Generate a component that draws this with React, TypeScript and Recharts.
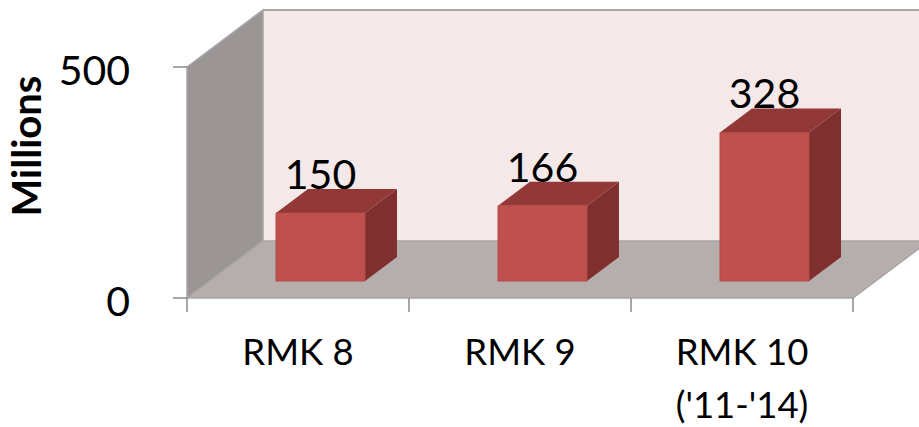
import { Bar, BarChart, Customized, LabelList, XAxis, YAxis } from "recharts"

const categories = ["RMK 8", "RMK 9", "RMK 10\n('11-'14)"]
const values = [150, 166, 328]
const yTicks = [0, 500]

const chartData = categories.map((name, i) => ({ name, value: values[i] }))

const FONT = "Lato, sans-serif"
const WIDTH = 919
const HEIGHT = 427

// plot box (front plane of the 3D frame)
const LEFT = 187
const RIGHT = 853
const TOP = 67
const FLOOR = 298

// depth of the frame and of each column
const WALL_DX = 76
const WALL_DY = 57
const BAR_DX = 32
const BAR_DY = 24
const BAR_SHIFT_X = 22
const BAR_LIFT = 17
const FORESHORTEN = 0.98

const pts = (list: number[][]) => list.map((p) => p.join(",")).join(" ")

function Frame() {
  const band = (RIGHT - LEFT) / categories.length
  const tickXs = [0, 1, 2, 3].map((i) => LEFT + band * i)
  const backL = LEFT + WALL_DX
  const backR = RIGHT + WALL_DX
  const backT = TOP - WALL_DY
  const backB = FLOOR - WALL_DY
  return (
    <g>
      <polygon points={pts([[backL, backT], [backR, backT], [backR, backB], [backL, backB]])} fill="#f4e8e8" />
      <polygon
        points={pts([[LEFT, TOP], [backL, backT], [backL, backB], [LEFT, FLOOR]])}
        fill="#9b9595"
        stroke="#a9a5a5"
        strokeWidth={1.5}
      />
      <polygon
        points={pts([[LEFT, FLOOR], [backL, backB], [backR, backB], [RIGHT, FLOOR]])}
        fill="#b6adad"
        stroke="#a9a5a5"
        strokeWidth={1.5}
      />
      <line x1={backL} y1={backT} x2={backR} y2={backT} stroke="#aaa6a6" strokeWidth={2} />
      {tickXs.map((x) => (
        <line key={x} x1={x} y1={FLOOR} x2={x} y2={FLOOR + 14} stroke="#8c8a8a" strokeWidth={1.5} />
      ))}
    </g>
  )
}

function Column({ x, y, width, height }: any) {
  const h = height * FORESHORTEN
  const bottom = y + height - BAR_LIFT
  const top = bottom - h
  const l = x + BAR_SHIFT_X
  const r = l + width
  return (
    <g strokeLinejoin="round">
      <polygon
        points={pts([[l, top], [r, top], [r + BAR_DX, top - BAR_DY], [l + BAR_DX, top - BAR_DY]])}
        fill="#923836"
      />
      <polygon
        points={pts([[r, top], [r + BAR_DX, top - BAR_DY], [r + BAR_DX, bottom - BAR_DY], [r, bottom]])}
        fill="#7f302e"
      />
      <rect x={l} y={top} width={width} height={h} fill="#c0504d" stroke="#b34a47" strokeWidth={1} />
    </g>
  )
}

function ValueLabel({ x, y, width, height, value }: any) {
  const h = height * FORESHORTEN
  const top = y + height - BAR_LIFT - h
  return (
    <text
      x={x + BAR_SHIFT_X + width / 2}
      y={top - BAR_DY}
      textAnchor="middle"
      fontFamily={FONT}
      fontSize={41}
      fill="#000"
    >
      {value}
    </text>
  )
}

function CategoryTick({ x, y, payload }: any) {
  const lines = String(payload.value).split("\n")
  return (
    <g>
      {lines.map((line: string, i: number) => (
        <text key={line} x={x} y={y + i * 53} textAnchor="middle" fontFamily={FONT} fontSize={36.5} fill="#000">
          {line}
        </text>
      ))}
    </g>
  )
}

function ValueTick({ x, y, payload }: any) {
  return (
    <g>
      <line x1={LEFT - 14} y1={y} x2={LEFT} y2={y} stroke="#8c8a8a" strokeWidth={1.5} />
      <text x={x} y={y + 18} textAnchor="end" fontFamily={FONT} fontSize={41} fill="#000">
        {payload.value}
      </text>
    </g>
  )
}

export default function App() {
  return (
    <div style={{ position: "absolute", left: 0, top: 0, width: WIDTH, height: HEIGHT, overflow: "hidden" }}>
      <BarChart
        width={WIDTH}
        height={HEIGHT}
        data={chartData}
        margin={{ top: TOP, right: WIDTH - RIGHT, bottom: 0, left: 0 }}
        style={{ overflow: "visible" }}
      >
        <Customized component={<Frame />} />
        <XAxis
          dataKey="name"
          axisLine={false}
          tickLine={false}
          interval={0}
          height={HEIGHT - FLOOR}
          tick={<CategoryTick />}
          tickMargin={61}
        />
        <YAxis
          width={LEFT}
          domain={[0, 500]}
          ticks={yTicks}
          axisLine={false}
          tickLine={false}
          tickMargin={43}
          tickSize={14}
          tick={<ValueTick />}
        />
        <Bar dataKey="value" barSize={89} shape={<Column />} isAnimationActive={false}>
          <LabelList dataKey="value" content={<ValueLabel />} />
        </Bar>
        <Customized
          component={
            <text
              transform="translate(41 146) rotate(-90)"
              textAnchor="middle"
              fontFamily={FONT}
              fontSize={40}
              fontWeight={700}
              fill="#000"
            >
              Millions
            </text>
          }
        />
      </BarChart>
    </div>
  )
}
